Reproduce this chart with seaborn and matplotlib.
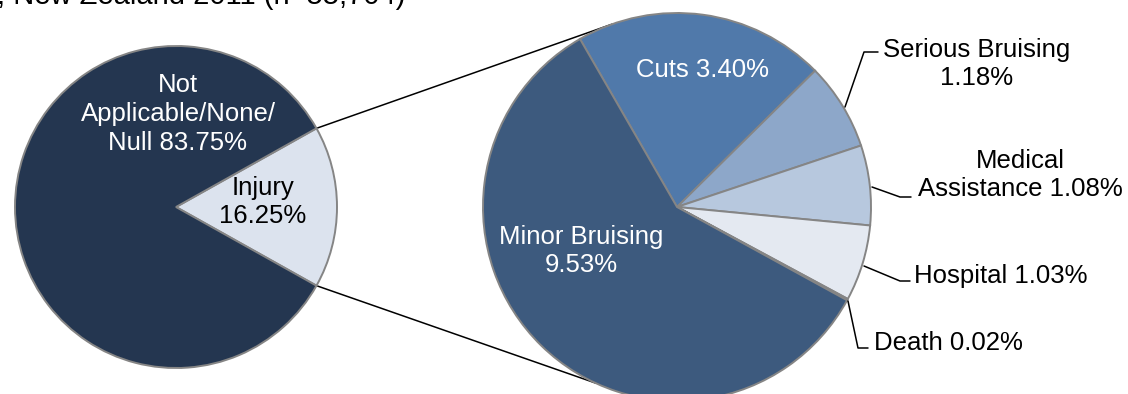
import matplotlib
matplotlib.use("Agg")
import matplotlib.pyplot as plt
import numpy as np
import seaborn as sns

sns.set_theme(style="white")
plt.rcParams["font.family"] = ["Liberation Sans", "DejaVu Sans"]

# ---- data -------------------------------------------------------------
title_text = ", New Zealand 2011 (n=55,704)"

main_names = ["Injury", "Not\nApplicable/None/\nNull"]
main_seps = ["\n", " "]
main_values = [16.25, 83.75]
main_colors = ["#DCE3EE", "#243650"]
main_text_colors = ["black", "white"]

detail_names = ["Cuts", "Serious Bruising", "Medical\nAssistance", "Hospital", "Death", "Minor Bruising"]
detail_seps = [" ", "\n", " ", " ", " ", "\n"]
detail_values = [3.40, 1.18, 1.08, 1.03, 0.02, 9.53]
detail_colors = ["#5079AA", "#8DA7C9", "#B7C8DE", "#E4E9F1", "#7F7F7F", "#3D5A7E"]

# ---- layout (pixel space, y measured from the top) -----------------------
W, H = 1128, 394
def Y(y):
    return H - y

left_c, left_r = (176, Y(207)), 161
right_c, right_r = (677, Y(207)), 194
edge = dict(edgecolor="#858585", linewidth=1.4)

fig = plt.figure(figsize=(W / 100, H / 100), dpi=100)
ax = fig.add_axes([0, 0, 1, 1])

# main pie: the injury slice is centred on the right-hand side
injury_half = main_values[0] / sum(main_values) * 180
ax.pie(main_values, colors=main_colors, startangle=-injury_half,
       counterclock=True, center=left_c, radius=left_r, wedgeprops=edge)

# breakdown of the injury slice, clockwise from the top
ax.pie(detail_values, colors=detail_colors, startangle=120,
       counterclock=False, center=right_c, radius=right_r, wedgeprops=edge)

ax.set_xlim(0, W)
ax.set_ylim(0, H)
ax.set_aspect("equal")
ax.axis("off")

# connectors from the injury slice to the breakdown pie
def on_circle(c, r, deg):
    a = np.deg2rad(deg)
    return c[0] + r * np.cos(a), c[1] + r * np.sin(a)

for a_left, a_right in [(injury_half, 109.6), (-injury_half, -114.9)]:
    p0 = on_circle(left_c, left_r, a_left)
    p1 = on_circle(right_c, right_r, a_right)
    ax.plot([p0[0], p1[0]], [p0[1], p1[1]], color="black", lw=1.1, zorder=0)

fs = 18.5
ls = 1.25

def lab(name, sep, val):
    return f"{name}{sep}{val:.2f}%"

# main pie labels
main_pos = [(263, 202), (178, 114)]
for n, s, v, tc, (x, y) in zip(main_names, main_seps, main_values, main_text_colors, main_pos):
    ax.text(x, Y(y), lab(n, s, v), ha="center", va="center", fontsize=fs,
            color=tc, linespacing=ls)

# breakdown labels inside the pie
ax.text(702, Y(70), lab(detail_names[0], detail_seps[0], detail_values[0]),
        ha="center", va="center", fontsize=fs, color="white")
ax.text(581, Y(251), lab(detail_names[5], detail_seps[5], detail_values[5]),
        ha="center", va="center", fontsize=fs, color="white", linespacing=ls)

# breakdown labels outside the pie with leader lines
leaders = {
    1: [(845, 107), (864, 52), (878, 52)],
    2: [(872, 187), (900, 197), (911, 197)],
    3: [(864, 266), (900, 281), (910, 281)],
    4: [(848, 301), (858, 348), (868, 348)],
}
for pts in leaders.values():
    xs, ys = zip(*pts)
    ax.plot(xs, [Y(v) for v in ys], color="black", lw=1.1)

ax.text(977, Y(64), lab(detail_names[1], detail_seps[1], detail_values[1]),
        ha="center", va="center", fontsize=fs, color="black", linespacing=ls)
ax.text(1020, Y(175), lab(detail_names[2], detail_seps[2], detail_values[2]),
        ha="center", va="center", fontsize=fs, color="black", linespacing=ls)
ax.text(914, Y(276), lab(detail_names[3], detail_seps[3], detail_values[3]),
        ha="left", va="center", fontsize=fs, color="black")
ax.text(874, Y(343), lab(detail_names[4], detail_seps[4], detail_values[4]),
        ha="left", va="center", fontsize=fs, color="black")

# title, running off the top edge of the canvas
ax.text(405, Y(4), title_text, ha="right", va="baseline", fontsize=21, color="black")

fig.savefig("out.png", dpi=100)
